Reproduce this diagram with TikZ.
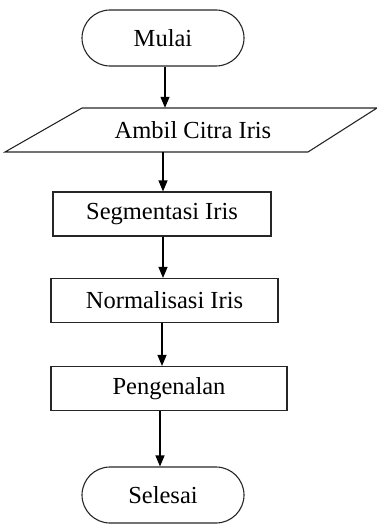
\documentclass[tikz,border=0pt]{standalone}
\usepackage{fontspec}
\setmainfont{Liberation Serif}
\usetikzlibrary{arrows.meta}

\tikzset{
  garis/.style={draw=black!85, line width=1.1pt},
  terminal/.style={garis, rounded corners=28pt,
    minimum width=162pt, minimum height=56pt, inner sep=0pt},
  proses/.style={garis, minimum height=44pt, inner sep=0pt},
  panah/.style={line width=1.1pt, -{Triangle[width=9pt,length=11pt]}}
}

\begin{document}
\begin{tikzpicture}[x=1pt,y=-1pt,font=\fontsize{24.5}{28}\selectfont]
\useasboundingbox (0,0) rectangle (376,524);

%% simbol
\node[terminal] (mulai)   at (163,38)    {Mulai};
\draw[garis] (82,108) -- (377,108) -- (308,152) -- (5,152) -- cycle;   %% input
\node[minimum height=44pt, inner sep=0pt] (ambil) at (193,130) {\raisebox{-3pt}{Ambil Citra Iris}};
\node[proses, minimum width=218pt] (segmen)  at (162,214)   {Segmentasi Iris};
\node[proses, minimum width=227pt] (normal)  at (164.5,300.5) {Normalisasi Iris};
\node[proses, minimum width=236pt] (kenal)   at (169,388.5) {Pengenalan};
\node[terminal] (selesai) at (163,495)   {Selesai};

%% alur
\draw[panah] (165,0 |- mulai.south) -- (165,0 |- ambil.north);
\draw[panah] (163,0 |- ambil.south) -- (163,0 |- segmen.north);
\draw[panah] (163,0 |- segmen.south) -- (163,0 |- normal.north);
\draw[panah] (162,0 |- normal.south) -- (162,0 |- kenal.north);
\draw[panah] (160,0 |- kenal.south) -- (160,0 |- selesai.north);
\end{tikzpicture}
\end{document}
